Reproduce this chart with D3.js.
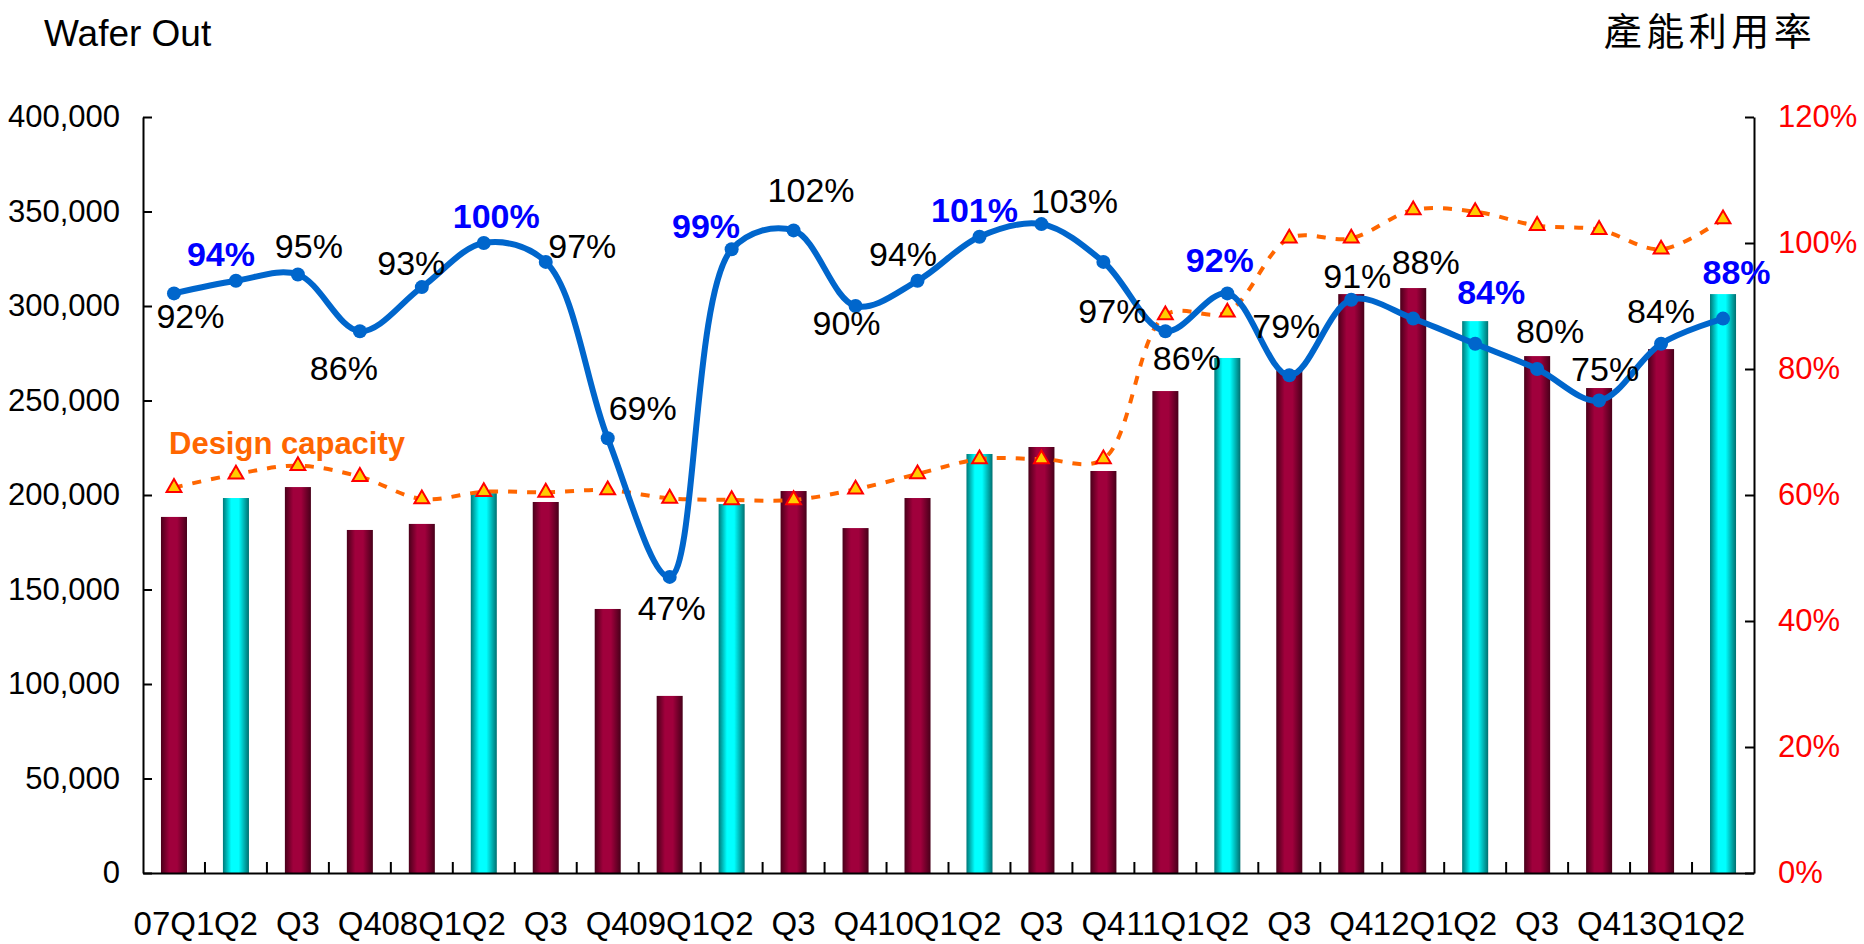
<!DOCTYPE html>
<html>
<head>
<meta charset="utf-8">
<script src="https://cdn.jsdelivr.net/npm/d3@7"></script>
<style>
  html, body { margin: 0; padding: 0; background: #fff; }
  svg { display: block; }
  text { font-family: "Liberation Sans", Arial, sans-serif; }
</style>
</head>
<body>
<svg id="chart" width="1864" height="944"></svg>
<script>
// ---- data ----
const quarters = ["07Q1","Q2","Q3","Q4","08Q1","Q2","Q3","Q4","09Q1","Q2","Q3","Q4",
                  "10Q1","Q2","Q3","Q4","11Q1","Q2","Q3","Q4","12Q1","Q2","Q3","Q4","13Q1","Q2"];
const waferOut = [188400,198400,204200,181500,184700,201000,196300,139700,93700,195200,202100,182500,
                  198400,221700,225400,212700,255000,272500,266000,306300,309500,292000,273500,256600,277200,306300];
const designCapacity = [203900,211000,215500,209700,197900,201700,201400,202600,198200,197400,197400,203000,
                        211100,219000,219000,219000,295200,296700,335800,335800,350800,349900,342500,340400,330000,346000];
const utilization = [0.92,0.94,0.95,0.86,0.93,1.00,0.97,0.69,0.47,0.99,1.02,0.90,
                     0.94,1.01,1.03,0.97,0.86,0.92,0.79,0.91,0.88,0.84,0.80,0.75,0.84,0.88];
const leftTicks = [0,50000,100000,150000,200000,250000,300000,350000,400000];
const rightTicks = [0,0.2,0.4,0.6,0.8,1.0,1.2];

// label placement offsets (style): [dx, dy] relative to point
const labelOffsets = [[16.5,34.6],[-15,-15],[11,-16.5],[-16,49],[-10.5,-12],[12.5,-15],[36.5,-4],[35,-18],
  [2,43],[-25.6,-11],[17.5,-28],[-9,29],[-14.5,-15],[-5,-15],[33,-11],[9,61],[21.5,39],[-7.5,-21],
  [-3,-37],[6,-12],[12.5,-44.6],[16,-40],[13,-26],[6,-19.5],[0,-21],[13.5,-34.6]];

// ---- layout ----
const L = 143, R = 1754, T = 117, B = 873;
const svg = d3.select("#chart");

const x = d3.scaleBand().domain(d3.range(quarters.length)).range([L, R]).padding(0);
const yL = d3.scaleLinear().domain([0, 400000]).range([B, T]);
const yR = d3.scaleLinear().domain([0, 1.2]).range([B, T]);
const cx = i => x(i) + x.bandwidth() / 2;
const isQ2 = i => quarters[i].endsWith("Q2");

// gradients
const defs = svg.append("defs");
function grad(id, stops) {
  const g = defs.append("linearGradient").attr("id", id).attr("x1", "0%").attr("x2", "100%").attr("y1", "0%").attr("y2", "0%");
  stops.forEach(s => g.append("stop").attr("offset", s[0]).attr("stop-color", s[1]));
}
grad("gCrimson", [["0%", "#4a001a"], ["32%", "#a0003c"], ["62%", "#a0003c"], ["100%", "#48001a"]]);
grad("gCyan", [["0%", "#007878"], ["32%", "#00ffff"], ["60%", "#00ffff"], ["100%", "#007070"]]);

// bars
const bw = x.bandwidth() * 0.42;
svg.append("g").selectAll("rect").data(waferOut).join("rect")
  .attr("x", (d, i) => cx(i) - bw / 2)
  .attr("y", d => yL(d))
  .attr("width", bw)
  .attr("height", d => B - yL(d))
  .attr("fill", (d, i) => isQ2(i) ? "url(#gCyan)" : "url(#gCrimson)");

// axes
const axL = svg.append("g").attr("transform", `translate(${L},0)`)
  .call(d3.axisLeft(yL).tickValues(leftTicks).tickFormat(d3.format(",")).tickSizeInner(-9).tickSizeOuter(0).tickPadding(23));
const axR = svg.append("g").attr("transform", `translate(${R},0)`)
  .call(d3.axisRight(yR).tickValues(rightTicks).tickFormat(d3.format(".0%")).tickSizeInner(-9).tickSizeOuter(0).tickPadding(24));
[axL, axR].forEach(a => {
  a.select(".domain").attr("stroke", "#000").attr("stroke-width", 2);
  a.selectAll(".tick line").attr("stroke", "#000").attr("stroke-width", 2);
  a.selectAll(".tick text").attr("font-size", 31).attr("font-family", '"Liberation Sans", Arial, sans-serif');
});
axR.selectAll(".tick text").attr("fill", "#ff0000");
axL.selectAll(".tick text").attr("fill", "#000");

// x axis
const axX = svg.append("g").attr("transform", `translate(0,${B})`)
  .call(d3.axisBottom(x).tickFormat(i => quarters[i]).tickSize(0).tickPadding(0));
axX.select(".domain").attr("stroke", "#000").attr("stroke-width", 2);
axX.selectAll(".tick text").attr("font-size", 33).attr("fill", "#000")
  .attr("dy", null).attr("y", 62).attr("font-family", '"Liberation Sans", Arial, sans-serif');
svg.append("g").selectAll("line").data(d3.range(1, quarters.length)).join("line")
  .attr("x1", i => x(i)).attr("x2", i => x(i))
  .attr("y1", B).attr("y2", B - 11)
  .attr("stroke", "#000").attr("stroke-width", 2);

// design capacity line
const curve = d3.curveCatmullRom.alpha(0.5);
svg.append("path").datum(designCapacity)
  .attr("fill", "none").attr("stroke", "#ff6600").attr("stroke-width", 4)
  .attr("stroke-dasharray", "9,10")
  .attr("d", d3.line().x((d, i) => cx(i)).y(d => yL(d)).curve(curve));
svg.append("g").selectAll("path").data(designCapacity).join("path")
  .attr("transform", (d, i) => `translate(${cx(i)},${yL(d)})`)
  .attr("d", d3.symbol(d3.symbolTriangle, 95))
  .attr("fill", "#ffcc00").attr("stroke", "#ff0000").attr("stroke-width", 2);

// utilization line
svg.append("path").datum(utilization)
  .attr("fill", "none").attr("stroke", "#0066cc").attr("stroke-width", 6)
  .attr("stroke-linejoin", "round")
  .attr("d", d3.line().x((d, i) => cx(i)).y(d => yR(d)).curve(curve));
svg.append("g").selectAll("circle").data(utilization).join("circle")
  .attr("cx", (d, i) => cx(i)).attr("cy", d => yR(d)).attr("r", 7)
  .attr("fill", "#0066cc");

// data labels
svg.append("g").selectAll("text").data(utilization).join("text")
  .attr("x", (d, i) => cx(i) + labelOffsets[i][0])
  .attr("y", (d, i) => yR(d) + labelOffsets[i][1])
  .attr("text-anchor", "middle")
  .attr("font-size", 34)
  .attr("font-weight", (d, i) => isQ2(i) ? "bold" : "normal")
  .attr("fill", (d, i) => isQ2(i) ? "#0000ff" : "#000")
  .text(d => d3.format(".0%")(d));

// titles
svg.append("text").attr("x", 44).attr("y", 45.5).attr("font-size", 37).attr("fill", "#000").text("Wafer Out");
svg.append("text").attr("x", 1710).attr("y", 45).attr("text-anchor", "middle")
  .attr("font-size", 38).attr("letter-spacing", 4.5)
  .style("font-family", '"Noto Sans CJK TC", "Noto Sans CJK SC", sans-serif')
  .attr("fill", "#000").text("產能利用率");
svg.append("text").attr("x", 169).attr("y", 454).attr("font-size", 31).attr("font-weight", "bold")
  .attr("fill", "#ff6600").text("Design capacity");
</script>
</body>
</html>
